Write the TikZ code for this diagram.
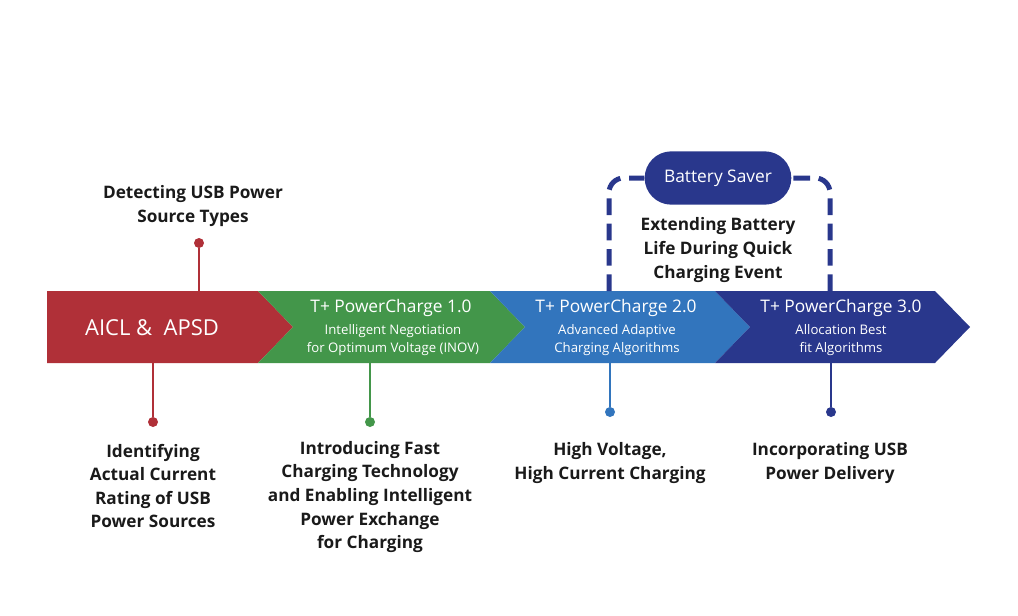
\documentclass[tikz,border=0pt]{standalone}
\usepackage{fontspec}
\setmainfont{Open Sans}
\definecolor{aiclred}{RGB}{176,48,56}
\definecolor{pcgreen}{RGB}{67,150,74}
\definecolor{pcblue}{RGB}{50,117,189}
\definecolor{pcnavy}{RGB}{41,55,140}
\definecolor{inkgray}{RGB}{26,26,26}

\tikzset{
  knob/.style={circle,fill=#1,inner sep=0pt,minimum size=7.5pt},
  stalk/.style={draw=#1,line width=1.9pt},
  note/.style={align=center,text=inkgray,font=\bfseries\fontsize{12.9}{17.7}\selectfont},
  ptitle/.style={text=white,font=\fontsize{13}{14}\selectfont},
  psub/.style={align=center,text=white,font=\fontsize{9.9}{13.5}\selectfont},
  saver/.style={draw=pcnavy,line width=3.75pt,dash pattern=on 12.5pt off 6.5pt,rounded corners=11pt}
}

\begin{document}
\begin{tikzpicture}[x=0.75pt,y=-0.75pt]
  \useasboundingbox (0,0) rectangle (1018,615);
  %%%%% BAND %%%%%
  \fill[aiclred] (47,291) -- (258,291) -- (293,327) -- (258,363) -- (47,363) -- cycle;
  \fill[pcgreen] (258,291) -- (490,291) -- (525,327) -- (490,363) -- (258,363) -- (293,327) -- cycle;
  \fill[pcblue] (490,291) -- (715,291) -- (750,327) -- (715,363) -- (490,363) -- (525,327) -- cycle;
  \fill[pcnavy] (715,291) -- (935,291) -- (970,327) -- (935,363) -- (715,363) -- (750,327) -- cycle;

  \node[text=white,font=\fontsize{16.5}{18}\selectfont] (aicl) at (152,328) {AICL \&\ \ APSD};
  \node[ptitle] (pc1) at (391,308) {T+ PowerCharge 1.0};
  \node[psub] (pc1s) at (393,340) {Intelligent Negotiation\\for Optimum Voltage (INOV)};
  \node[ptitle] (pc2) at (616,308) {T+ PowerCharge 2.0};
  \node[psub] (pc2s) at (617,340) {Advanced Adaptive\\Charging Algorithms};
  \node[ptitle] (pc3) at (841,308) {T+ PowerCharge 3.0};
  \node[psub] (pc3s) at (841,340) {Allocation Best\\fit Algorithms};

  %%%%% STALKS %%%%%
  \coordinate (t0) at (199,291);
  \coordinate (b0) at (153,363);
  \coordinate (b1) at (370,363);
  \coordinate (b2) at (610,363);
  \coordinate (b3) at (831,363);
  \node[knob=aiclred] (k0) at (199,243) {};
  \node[knob=aiclred] (k1) at (153,422) {};
  \node[knob=pcgreen] (k2) at (370,422) {};
  \node[knob=pcblue] (k3) at (610,412) {};
  \node[knob=pcnavy] (k4) at (831,412) {};
  \draw[stalk=aiclred] (t0) -- (k0);
  \draw[stalk=aiclred] (b0) -- (k1);
  \draw[stalk=pcgreen] (b1) -- (k2);
  \draw[stalk=pcblue] (b2) -- (k3);
  \draw[stalk=pcnavy] (b3) -- (k4);

  %%%%% BATTERY SAVER %%%%%
  \node[fill=pcnavy,text=white,minimum width=110pt,minimum height=40pt,rounded corners=20pt,
    font=\fontsize{13}{14}\selectfont] (bsave) at (718,178) {Battery Saver};
  \coordinate (sl) at (609,291);
  \coordinate (sr) at (830,291);
  \draw[saver] (sl) |- (bsave.west);
  \draw[saver] (sr) |- (bsave.east);

  %%%%% NOTES %%%%%
  \node[note] (n0) at (193,206) {Detecting USB Power\\Source Types};
  \node[note] (n1) at (153,486) {Identifying\\Actual Current\\Rating of USB\\Power Sources};
  \node[note] (n2) at (370,497) {Introducing Fast\\Charging Technology\\and Enabling Intelligent\\Power Exchange\\for Charging};
  \node[note] (n3) at (610,463) {High Voltage,\\High Current Charging};
  \node[note] (n4) at (830,463) {Incorporating USB\\Power Delivery};
  \node[note] (n5) at (718,250) {Extending Battery\\Life During Quick\\Charging Event};
\end{tikzpicture}
\end{document}
